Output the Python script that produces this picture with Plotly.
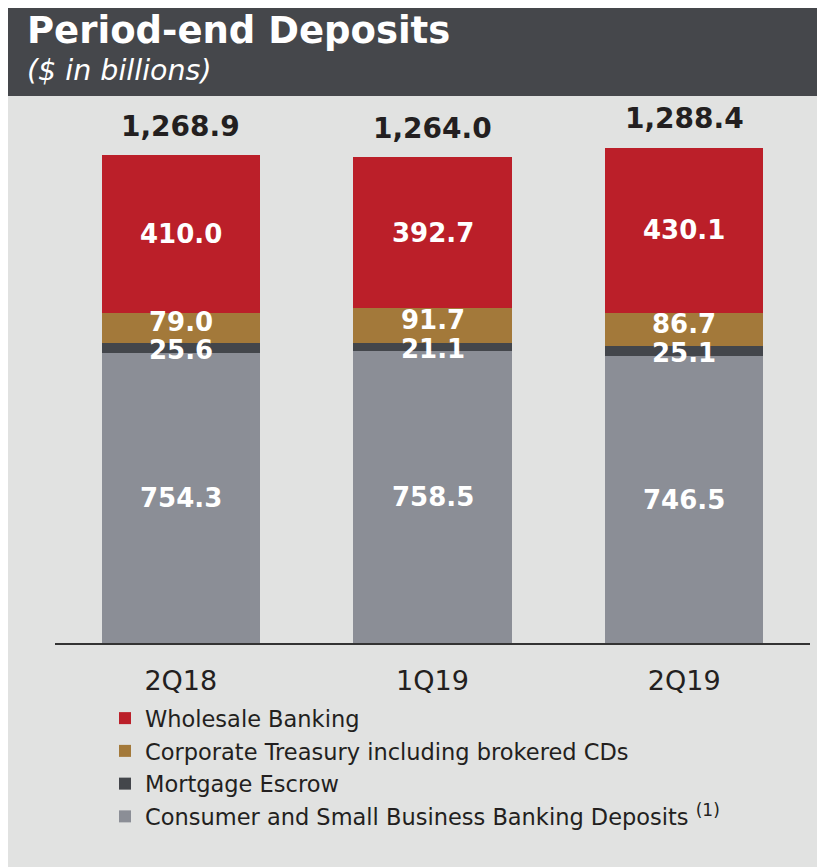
import plotly.graph_objects as go

categories = ["2Q18", "1Q19", "2Q19"]
consumer = [754.3, 758.5, 746.5]
escrow = [25.6, 21.1, 25.1]
corporate = [79.0, 91.7, 86.7]
wholesale = [410.0, 392.7, 430.1]
totals = [1268.9, 1264.0, 1288.4]

names = [
    "Consumer and Small Business Banking Deposits <sup><span style='font-size:17px'>(1)</span></sup>",
    "Mortgage Escrow",
    "Corporate Treasury including brokered CDs",
    "Wholesale Banking",
]
values = [consumer, escrow, corporate, wholesale]
colors = ["#8b8e96", "#43464b", "#a3793a", "#bb1f29"]
label_shift = [0, -2, 6, 0]
ranks = [4, 3, 2, 1]

# page has an 8px body margin: figure coordinates = screen - 8
OFF = 8
W, H = 825 - OFF, 867 - OFF
FONT = "DejaVu Sans"
DARK = "#231f20"


def px(x):
    return (x - OFF) / W


def py(y):
    return 1 - (y - OFF) / H


fig = go.Figure()
for i, (nm, vals, col) in enumerate(zip(names, values, colors)):
    fig.add_trace(go.Bar(
        x=categories, y=vals, name=nm, marker=dict(color=col, line=dict(width=0)),
        legendgroup=f"g{ranks[i]}", legendrank=ranks[i], hoverinfo="skip",
    ))

annotations = []
for ci, cat in enumerate(categories):
    base = 0
    for si, vals in enumerate(values):
        v = vals[ci]
        annotations.append(dict(
            x=cat, y=base + v / 2, xref="x", yref="y", text=f"{v:.1f}",
            showarrow=False, yshift=label_shift[si],
            font=dict(family=FONT, size=26, color="white", weight="bold"),
        ))
        base += v
    annotations.append(dict(
        x=cat, y=totals[ci], xref="x", yref="y", text=f"{totals[ci]:,.1f}",
        showarrow=False, yanchor="middle", yshift=29,
        font=dict(family=FONT, size=28, color=DARK, weight="bold"),
    ))

annotations.append(dict(
    x=px(25), y=py(31), xref="paper", yref="paper", xanchor="left", yanchor="middle",
    text="<b>Period-end Deposits</b>", showarrow=False,
    font=dict(family=FONT, size=37, color="white"),
))
annotations.append(dict(
    x=px(25), y=py(70), xref="paper", yref="paper", xanchor="left", yanchor="middle",
    text="<i>($ in billions)</i>", showarrow=False,
    font=dict(family=FONT, size=28.5, color="white"),
))

shapes = [
    dict(type="rect", xref="paper", yref="paper", x0=px(7), x1=1.01, y0=-0.01, y1=py(5),
         fillcolor="#e1e2e1", line=dict(width=0), layer="below"),
    dict(type="rect", xref="paper", yref="paper", x0=px(7), x1=1.01, y0=py(96), y1=py(5),
         fillcolor="#45474b", line=dict(width=0), layer="below"),
]

scale = 0.3844  # px per unit
fig.update_layout(
    width=W, height=H,
    margin=dict(l=0, r=0, t=0, b=0, autoexpand=False),
    paper_bgcolor="white", plot_bgcolor="rgba(0,0,0,0)",
    barmode="stack", bargap=0.372,
    showlegend=True,
    legend=dict(
        x=px(105), y=py(697), xanchor="left", yanchor="top",
        traceorder="grouped", tracegroupgap=0.5,
        font=dict(family=FONT, size=22.5, color=DARK),
        bgcolor="rgba(0,0,0,0)",
    ),
    xaxis=dict(
        domain=[px(55), px(810)], showline=True, linecolor="#333333", linewidth=2,
        showgrid=False, zeroline=False, ticks="", ticklabelstandoff=13,
        tickfont=dict(family=FONT, size=27, color=DARK),
    ),
    yaxis=dict(
        domain=[py(643), py(100)], range=[0, 543 / scale], visible=False,
        showgrid=False, zeroline=False,
    ),
    annotations=annotations, shapes=shapes,
    font=dict(family=FONT),
)

fig.write_html("out.html")
